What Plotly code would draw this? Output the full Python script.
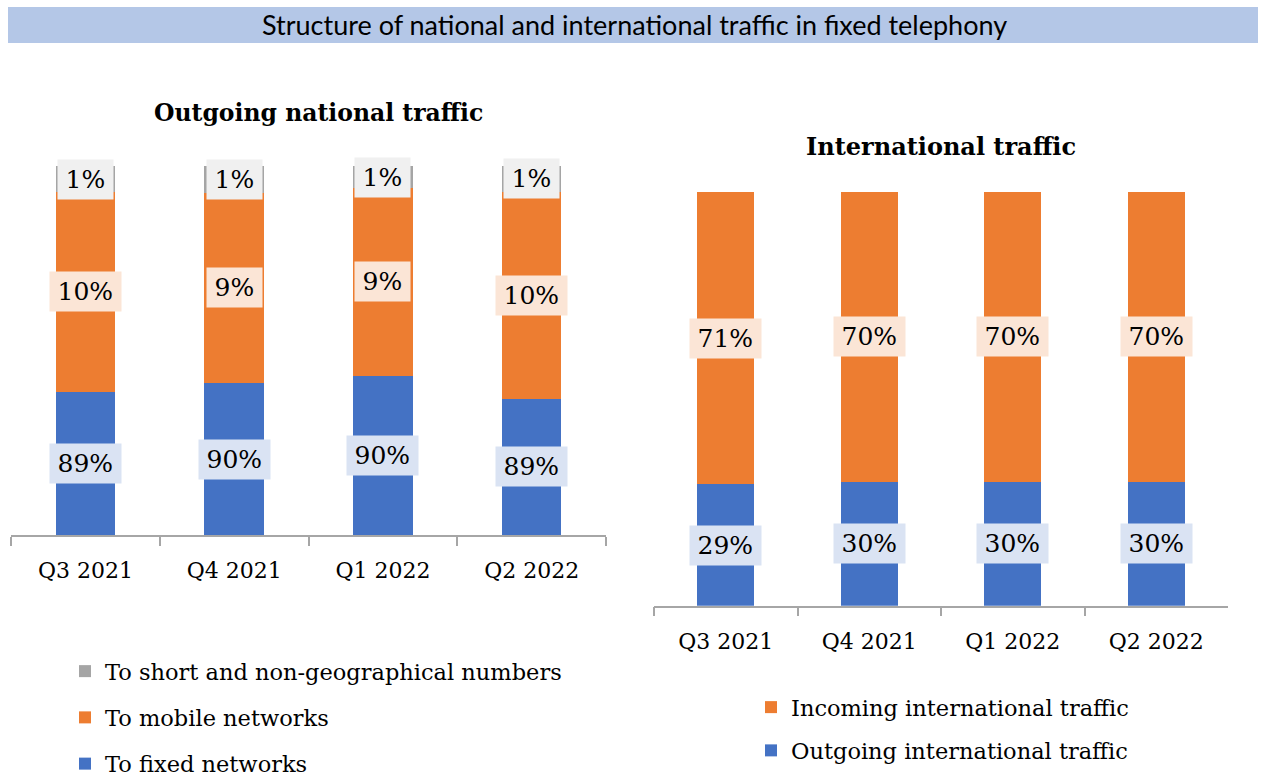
import plotly.graph_objects as go

quarters = ["Q3 2021", "Q4 2021", "Q1 2022", "Q2 2022"]

# Left chart: segment heights as drawn (share of bar height)
nat_fixed = [38.9, 41.3, 43.2, 37.0]
nat_mobile = [54.0, 51.4, 50.8, 56.0]
nat_short = [7.1, 7.3, 6.0, 7.0]
nat_fixed_lbl = ["89%", "90%", "90%", "89%"]
nat_mobile_lbl = ["10%", "9%", "9%", "10%"]
nat_short_lbl = ["1%", "1%", "1%", "1%"]

# Right chart
int_out = [29.3, 30.0, 30.0, 30.0]
int_in = [70.7, 70.0, 70.0, 70.0]
int_out_lbl = ["29%", "30%", "30%", "30%"]
int_in_lbl = ["71%", "70%", "70%", "70%"]

BLUE = "#4472c4"
ORANGE = "#ed7d31"
GREY = "#a5a5a5"
BLUE_BG = "#dae3f3"
ORANGE_BG = "#fbe5d6"
GREY_BG = "#f0f0f0"
SERIF = "DejaVu Serif"
HAIR = "\u200a"

W, H = 1262, 777

fig = go.Figure()

def bar(y, name, color, xa, ya, legend, rank):
    fig.add_trace(go.Bar(
        x=quarters, y=y, name=name, marker=dict(color=color, line=dict(width=0)),
        xaxis=xa, yaxis=ya, legend=legend, legendgroup=name, legendrank=rank,
        hoverinfo="skip",
    ))

bar(nat_fixed, "To fixed networks", BLUE, "x", "y", "legend", 3)
bar(nat_mobile, "To mobile networks", ORANGE, "x", "y", "legend", 2)
bar(nat_short, "To short and non-geographical numbers", GREY, "x", "y", "legend", 1)
bar(int_out, "Outgoing international traffic", BLUE, "x2", "y2", "legend2", 2)
bar(int_in, "Incoming international traffic", ORANGE, "x2", "y2", "legend2", 1)

annotations = []

def labels(series_list, xref, yref):
    for i, q in enumerate(quarters):
        base = 0
        for vals, lbls, bg in series_list:
            v = vals[i]
            annotations.append(dict(
                x=q, y=base + v / 2, xref=xref, yref=yref, text=HAIR + lbls[i] + HAIR,
                xanchor="center", yanchor="middle",
                showarrow=False, bgcolor=bg, borderpad=5,
                font=dict(family=SERIF, size=25, color="#000000"),
            ))
            base += v

labels([(nat_fixed, nat_fixed_lbl, BLUE_BG), (nat_mobile, nat_mobile_lbl, ORANGE_BG),
        (nat_short, nat_short_lbl, GREY_BG)], "x", "y")
labels([(int_out, int_out_lbl, BLUE_BG), (int_in, int_in_lbl, ORANGE_BG)], "x2", "y2")

# Titles
annotations.append(dict(x=634 / W, y=1 - 25 / H, xref="paper", yref="paper",
                        xanchor="center", yanchor="middle",
                        text="Structure of national and international traffic in fixed telephony",
                        showarrow=False, font=dict(family="Lato", size=27, color="#000000")))
annotations.append(dict(x=318 / W, y=1 - 113 / H, xref="paper", yref="paper",
                        xanchor="center", yanchor="middle",
                        text="<b>Outgoing national traffic</b>", showarrow=False,
                        font=dict(family=SERIF, size=23.5, color="#000000")))
annotations.append(dict(x=941 / W, y=1 - 146 / H, xref="paper", yref="paper",
                        xanchor="center", yanchor="middle",
                        text="<b>International traffic</b>", showarrow=False,
                        font=dict(family=SERIF, size=24, color="#000000")))

axis_common = dict(
    type="category", showline=True, linecolor="#a6a6a6", linewidth=1.5,
    ticks="outside", tickson="boundaries", ticklen=9, tickcolor="#a6a6a6", tickwidth=1.5,
    range=[-0.5, 3.5], tickfont=dict(family=SERIF, size=22, color="#000000"),
    ticklabelstandoff=15, showgrid=False, zeroline=False, fixedrange=True,
)
yaxis_common = dict(range=[0, 100], visible=False, showgrid=False, zeroline=False, fixedrange=True)

fig.update_layout(
    width=W, height=H, margin=dict(l=0, r=0, t=0, b=0, autoexpand=False),
    paper_bgcolor="white", plot_bgcolor="white",
    barmode="stack", bargap=0.6,
    xaxis=dict(domain=[11 / W, 606 / W], anchor="y", **axis_common),
    yaxis=dict(domain=[1 - 535.3 / H, 1 - 166 / H], anchor="x", **yaxis_common),
    xaxis2=dict(domain=[654 / W, 1228 / W], anchor="y2", **axis_common),
    yaxis2=dict(domain=[1 - 605.7 / H, 1 - 192 / H], anchor="x2", **yaxis_common),
    shapes=[dict(type="rect", xref="paper", yref="paper", x0=8 / W, x1=1258 / W,
                 y0=1 - 43 / H, y1=1 - 7 / H, fillcolor="#b4c7e7", line=dict(width=0), layer="below")],
    annotations=annotations,
    legend=dict(x=65 / W, y=1 - 650 / H, xanchor="left", yanchor="top",
                traceorder="grouped", tracegroupgap=14,
                font=dict(family=SERIF, size=22.5, color="#000000"), bgcolor="rgba(0,0,0,0)"),
    legend2=dict(x=751 / W, y=1 - 686 / H, xanchor="left", yanchor="top",
                 traceorder="grouped", tracegroupgap=11,
                 font=dict(family=SERIF, size=22.5, color="#000000"), bgcolor="rgba(0,0,0,0)"),
    showlegend=True,
)

fig.write_html("out.html", config={"displayModeBar": False},
               post_script="document.body.style.margin='0';document.body.style.overflow='hidden';")
